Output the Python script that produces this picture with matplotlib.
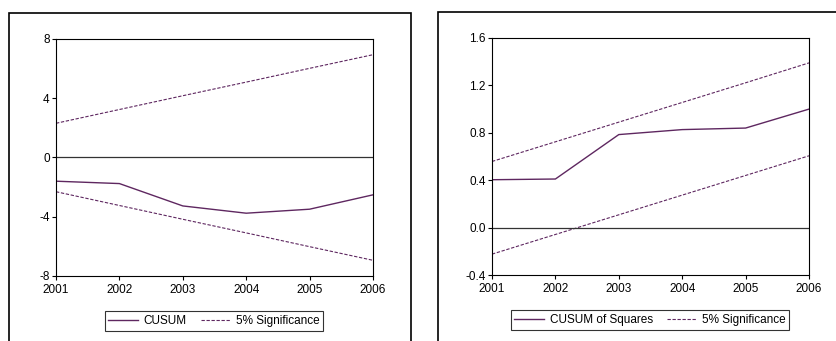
import matplotlib.pyplot as plt
from matplotlib.patches import Rectangle

plt.rcParams['font.family'] = ['Liberation Sans', 'DejaVu Sans']

years = [2001, 2002, 2003, 2004, 2005, 2006]
cusum = [-1.6, -1.76, -3.27, -3.76, -3.49, -2.52]
cusum_upper = [2.31, 3.24, 4.17, 5.09, 6.02, 6.94]
cusum_lower = [-2.31, -3.24, -4.17, -5.09, -6.02, -6.94]
cusumsq = [0.404, 0.41, 0.785, 0.827, 0.84, 1.0]
sq_upper = [0.558, 0.724, 0.89, 1.056, 1.222, 1.39]
sq_lower = [-0.224, -0.058, 0.108, 0.274, 0.44, 0.606]

W, H = 837, 341
line_col = '#5e2760'
fig = plt.figure(figsize=(W / 100, H / 100), dpi=100)


def px_axes(x0, y0, x1, y1):
    return fig.add_axes([x0 / W, 1 - y1 / H, (x1 - x0) / W, (y1 - y0) / H])


# outer frames of the two panels
fig.patches.append(Rectangle((9 / W, -0.05), (411 - 9) / W, 1.05 - 13 / H,
                             transform=fig.transFigure, fill=False, lw=1.2, ec='black'))
fig.patches.append(Rectangle((438 / W, -0.05), 0.5, 1.05 - 12 / H,
                             transform=fig.transFigure, fill=False, lw=1.2, ec='black'))


def panel(ax, main, upper, lower, label, yticks, ylabels):
    ax.plot(years, main, color=line_col, lw=1.0, label=label)
    ax.plot(years, upper, color=line_col, lw=0.8, ls=(0, (3, 1.5)), label='5% Significance')
    ax.plot(years, lower, color=line_col, lw=0.8, ls=(0, (3, 1.5)))
    ax.axhline(0, color='#333333', lw=0.9)
    ax.set_xlim(years[0], years[-1])
    ax.set_ylim(yticks[0], yticks[-1])
    ax.set_xticks(years)
    ax.set_yticks(yticks)
    ax.set_yticklabels(ylabels)
    ax.tick_params(direction='out', length=3, width=0.8, labelsize=8.5, pad=1.5)
    ax.tick_params(axis='x', pad=3)
    ax.tick_params(top=False, right=False)
    for s in ax.spines.values():
        s.set_linewidth(0.8)
    return ax


def add_legend(ax, cx, cy):
    leg = ax.legend(loc='center', bbox_to_anchor=(cx / W, 1 - cy / H),
                    bbox_transform=fig.transFigure, ncol=2, fontsize=8.5, frameon=True,
                    fancybox=False, edgecolor='black', handlelength=2.5, columnspacing=1.2,
                    borderpad=0.3, handletextpad=0.5)
    leg.get_frame().set_linewidth(0.8)


ax1 = px_axes(56, 39, 373, 276)
panel(ax1, cusum, cusum_upper, cusum_lower, 'CUSUM',
      [-8, -4, 0, 4, 8], ['-8', '-4', '0', '4', '8'])
add_legend(ax1, (105 + 323) / 2, 321)

ax2 = px_axes(492, 38, 809, 275)
panel(ax2, cusumsq, sq_upper, sq_lower, 'CUSUM of Squares',
      [-0.4, 0.0, 0.4, 0.8, 1.2, 1.6], ['-0.4', '0.0', '0.4', '0.8', '1.2', '1.6'])
add_legend(ax2, (507 + 793) / 2, 320)

fig.savefig('out.png', dpi=100)
